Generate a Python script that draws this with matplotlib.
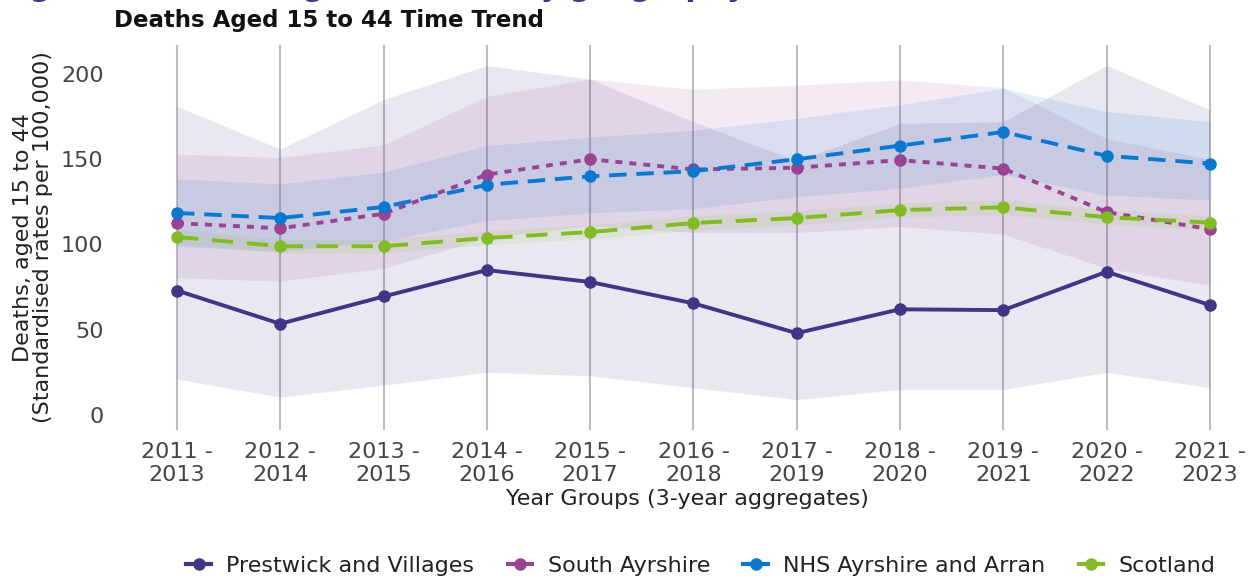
import matplotlib
matplotlib.use("Agg")
import matplotlib.pyplot as plt
from matplotlib.lines import Line2D
import numpy as np

categories = ["2011 -\n2013", "2012 -\n2014", "2013 -\n2015", "2014 -\n2016", "2015 -\n2017",
              "2016 -\n2018", "2017 -\n2019", "2018 -\n2020", "2019 -\n2021", "2020 -\n2022",
              "2021 -\n2023"]

series_names = ["Prestwick and Villages", "South Ayrshire", "NHS Ayrshire and Arran", "Scotland"]

prestwick = [73, 53.5, 69.5, 85, 78, 65.5, 48, 62, 61.5, 84, 64.5]
prestwick_lo = [21, 10.5, 17.5, 25, 23, 16, 9, 15, 15, 25, 16]
prestwick_hi = [181, 156, 185, 205, 197, 172, 149, 171, 172, 205, 179]

south_ayrshire = [112.5, 109.5, 118, 141, 150, 144, 145, 149.5, 144.5, 119, 109]
south_ayrshire_lo = [80.5, 78.5, 86, 104, 111, 107, 107, 110.5, 106, 86, 76]
south_ayrshire_hi = [153, 151, 158.5, 187, 197, 191, 193.5, 196.5, 192, 162, 150]

nhs = [118.5, 115.5, 122, 135, 140, 143, 150, 158, 166, 152, 147.5]
nhs_lo = [99, 96, 102, 114, 118.5, 121, 128, 133, 141, 129, 126]
nhs_hi = [138.5, 135.5, 142.5, 158, 163, 167, 174, 182, 191.5, 178, 172]

scotland = [104.4, 99, 99, 103.8, 107.3, 112.6, 115.5, 120.2, 121.8, 116, 112.8]
scotland_lo = [100.2, 95, 95, 99.8, 103.2, 108.4, 111.3, 116, 117.5, 111.8, 108.6]
scotland_hi = [108.7, 103.2, 103.2, 108, 111.5, 116.9, 119.8, 124.5, 126.2, 120.3, 117]

colors = ["#3F3685", "#9B4393", "#0B78D0", "#83BB26"]
styles = ["-", (0, (1.8, 1.8)), (0, (4.5, 2.5)), (0, (5.5, 3.5))]

fig = plt.figure(figsize=(12.55, 5.78), dpi=100)
W, H = 1255, 578
ax = fig.add_axes([130 / W, 1 - 430 / H, (1245 - 130) / W, (430 - 45) / H])

x = np.arange(len(categories))
data = [(prestwick, prestwick_lo, prestwick_hi),
        (south_ayrshire, south_ayrshire_lo, south_ayrshire_hi),
        (nhs, nhs_lo, nhs_hi),
        (scotland, scotland_lo, scotland_hi)]

for (v, lo, hi), c in zip(data, colors):
    ax.fill_between(x, lo, hi, color=c, alpha=0.11, linewidth=0, zorder=1)

for i, ((v, lo, hi), c, ls) in enumerate(zip(data, colors, styles)):
    ax.plot(x, v, color=c, linestyle=ls, linewidth=2.8, marker="o", markersize=8,
            zorder=3 + i)

ax.set_xlim(-0.455, 10.34)
ax.set_ylim(-8.8, 217)
ax.set_xticks(x)
ax.set_xticklabels(categories, fontsize=16, color="#444444", linespacing=1.15)
ax.set_yticks([0, 50, 100, 150, 200])
ax.set_yticklabels(["0", "50", "100", "150", "200"], fontsize=16, color="#444444")
ax.tick_params(axis="x", length=0, pad=9)
ax.tick_params(axis="y", length=0, pad=19)
ax.grid(axis="x", color="#bdbdbd", linewidth=1.5, zorder=0)
ax.grid(axis="y", visible=False)
ax.set_axisbelow(True)
for s in ax.spines.values():
    s.set_visible(False)

ax.set_xlabel("Year Groups (3-year aggregates)", fontsize=16, color="#222222", labelpad=3)
ax.set_ylabel("Deaths, aged 15 to 44\n(Standardised rates per 100,000)", fontsize=16,
              color="#222222", labelpad=6, linespacing=1.0)

fig.text(114 / W, 1 - 21 / H, "Deaths Aged 15 to 44 Time Trend", fontsize=16.5,
         fontweight="bold", color="#111111", ha="left", va="center")
fig.text(0 / W, 1 + 4 / H, "Figure 9: Deaths aged 15 to 44 by geography",
         fontsize=21, fontweight="bold", color="#3F3685", ha="left", va="baseline")

handles = [Line2D([0], [0], color=c, linewidth=3, marker="o", markersize=8) for c in colors]
fig.legend(handles, series_names, loc="center", bbox_to_anchor=(701 / W, 1 - 566 / H),
           ncol=4, frameon=False, fontsize=16, handlelength=1.1, columnspacing=1.5,
           handletextpad=0.7, labelcolor="#222222", borderpad=0.2)

fig.savefig("out.png", dpi=100)
